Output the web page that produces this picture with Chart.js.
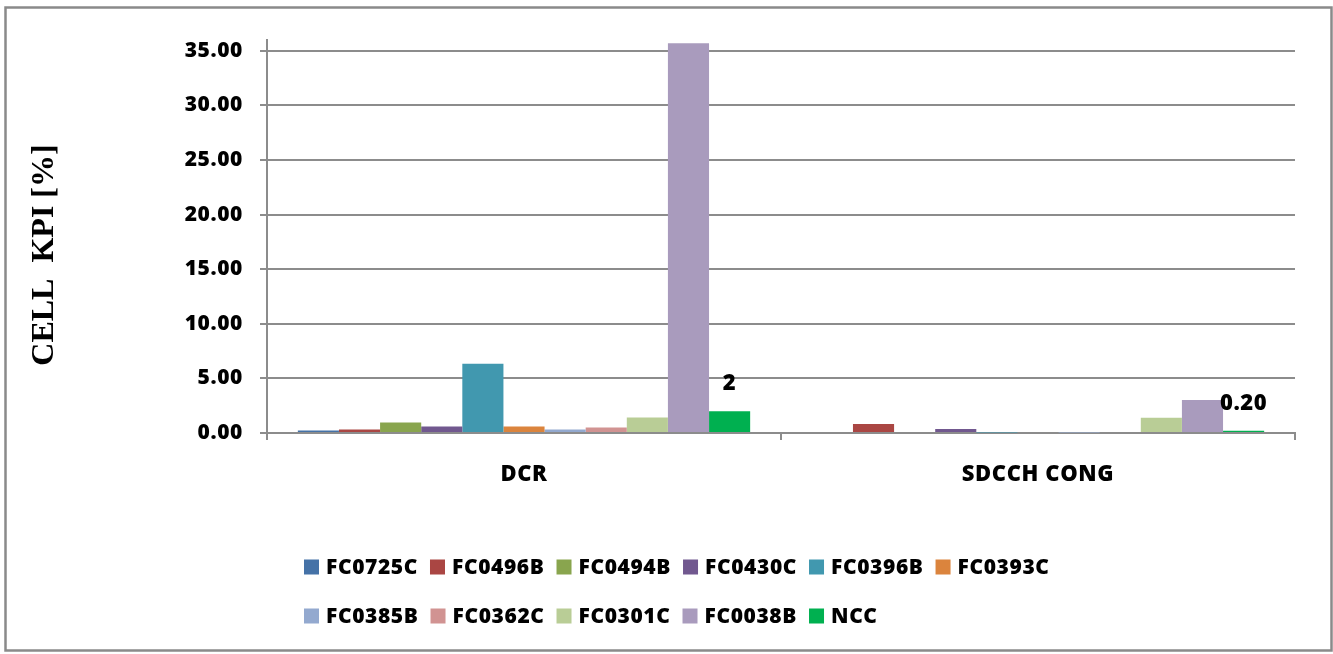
<!DOCTYPE html>
<html>
<head>
<meta charset="utf-8">
<script src="https://cdn.jsdelivr.net/npm/chart.js@4/dist/chart.umd.min.js"></script>
<style>
  html, body { margin: 0; padding: 0; background: #ffffff; }
  canvas { display: block; }
</style>
</head>
<body>
<canvas id="kpi" width="1333" height="654"></canvas>
<script>
// KPI categories on the x axis
const categories = ["DCR", "SDCCH CONG"];

// One series per cell, values in percent for [DCR, SDCCH CONG]
const cellNames = ["FC0725C", "FC0496B", "FC0494B", "FC0430C", "FC0396B", "FC0393C",
                   "FC0385B", "FC0362C", "FC0301C", "FC0038B", "NCC"];
const FC0725C = [0.23, 0];
const FC0496B = [0.32, 0.82];
const FC0494B = [0.96, 0];
const FC0430C = [0.60, 0.37];
const FC0396B = [6.35, 0.04];
const FC0393C = [0.60, 0];
const FC0385B = [0.32, 0.04];
const FC0362C = [0.50, 0];
const FC0301C = [1.42, 1.40];
const FC0038B = [35.7, 3.02];
const NCC     = [2, 0.20];
const nccLabels = ["2", "0.20"];

// y axis tick values
const yTicks = [0, 5, 10, 15, 20, 25, 30, 35];

const seriesValues = [FC0725C, FC0496B, FC0494B, FC0430C, FC0396B, FC0393C,
                      FC0385B, FC0362C, FC0301C, FC0038B, NCC];
const seriesColors = ["#4572A7", "#AA4643", "#89A54E", "#71588F", "#4198AF", "#DB843D",
                      "#93A9CF", "#D19392", "#B9CD96", "#A99BBD", "#00B050"];

const GRID = "#8c8c8c";
const FONT = '"Open Sans", "Liberation Sans", sans-serif';
const WEIGHT = "800";

// Slightly widened lettering for all sans text drawn on the canvas
const spacingPlugin = {
  id: "spacing",
  beforeDraw(chart) { chart.ctx.letterSpacing = "0.6px"; }
};

// Outer frame around the whole chart
const framePlugin = {
  id: "frame",
  afterDraw(chart) {
    const ctx = chart.ctx;
    ctx.save();
    ctx.strokeStyle = "#8a8a8a";
    ctx.lineWidth = 2.5;
    ctx.strokeRect(5.5, 7.5, 1326, 643);
    ctx.restore();
  }
};

// Vertical axis title
const yTitlePlugin = {
  id: "yTitle",
  afterDraw(chart) {
    const ctx = chart.ctx;
    ctx.save();
    ctx.letterSpacing = "0px";
    ctx.translate(45, 255);
    ctx.rotate(-Math.PI / 2);
    ctx.font = 'bold 32px "Liberation Serif", "Times New Roman", serif';
    ctx.fillStyle = "#000";
    ctx.textAlign = "center";
    ctx.textBaseline = "middle";
    ctx.fillText("CELL  KPI [%]", 0, 0);
    ctx.restore();
  }
};

// Value labels above the NCC bars
const nccLabelPlugin = {
  id: "nccLabels",
  afterDatasetsDraw(chart) {
    const idx = chart.data.datasets.findIndex(d => d.label === "NCC");
    const meta = chart.getDatasetMeta(idx);
    const ctx = chart.ctx;
    ctx.save();
    ctx.font = WEIGHT + " 22px " + FONT;
    ctx.fillStyle = "#000";
    ctx.textAlign = "center";
    ctx.textBaseline = "middle";
    meta.data.forEach((bar, i) => {
      ctx.fillText(nccLabels[i], bar.x, bar.y - 27);
    });
    ctx.restore();
  }
};

// Two-row legend, rows left aligned
const legendPlugin = {
  id: "twoRowLegend",
  afterDraw(chart) {
    const ctx = chart.ctx;
    const rows = [[0, 1, 2, 3, 4, 5], [6, 7, 8, 9, 10]];
    const rowY = [567, 616];
    ctx.save();
    ctx.font = WEIGHT + " 21px " + FONT;
    ctx.textBaseline = "middle";
    ctx.textAlign = "left";
    rows.forEach((row, r) => {
      let x = 304;
      const y = rowY[r];
      row.forEach(i => {
        const ds = chart.data.datasets[i];
        ctx.fillStyle = ds.backgroundColor;
        ctx.fillRect(x, y - 7.5, 15, 15);
        ctx.fillStyle = "#000";
        ctx.fillText(ds.label, x + 22, y + 1);
        x += 22 + ctx.measureText(ds.label).width + 12;
      });
    });
    ctx.restore();
  }
};

const datasets = cellNames.map((name, i) => ({
  label: name,
  data: seriesValues[i],
  backgroundColor: seriesColors[i],
  borderWidth: 0,
  categoryPercentage: 0.88,
  barPercentage: 1.0
}));

new Chart(document.getElementById("kpi"), {
  type: "bar",
  data: { labels: categories, datasets },
  options: {
    responsive: false,
    animation: false,
    layout: { padding: { left: 0, right: 38, top: 40, bottom: 0 } },
    plugins: {
      legend: { display: false },
      tooltip: { enabled: false }
    },
    scales: {
      x: {
        grid: {
          display: true,
          drawOnChartArea: false,
          drawTicks: true,
          tickLength: 7,
          color: GRID,
          lineWidth: 2,
          offset: true
        },
        border: { display: true, color: GRID, width: 2 },
        ticks: {
          color: "#000",
          font: { family: FONT, size: 22, weight: WEIGHT },
          padding: 22
        },
        afterFit(scale) { scale.height = 221; }
      },
      y: {
        min: 0,
        max: 36,
        grid: {
          color: GRID,
          lineWidth: 2,
          drawTicks: true,
          tickLength: 7
        },
        border: { display: true, color: GRID, width: 2 },
        ticks: {
          stepSize: 5,
          color: "#000",
          font: { family: FONT, size: 21, weight: WEIGHT },
          padding: 17,
          callback: v => Number(v).toFixed(2)
        },
        afterBuildTicks(scale) {
          scale.ticks = yTicks.map(v => ({ value: v }));
        },
        afterFit(scale) { scale.width = 267; }
      }
    }
  },
  plugins: [spacingPlugin, framePlugin, yTitlePlugin, nccLabelPlugin, legendPlugin]
});
</script>
</body>
</html>
